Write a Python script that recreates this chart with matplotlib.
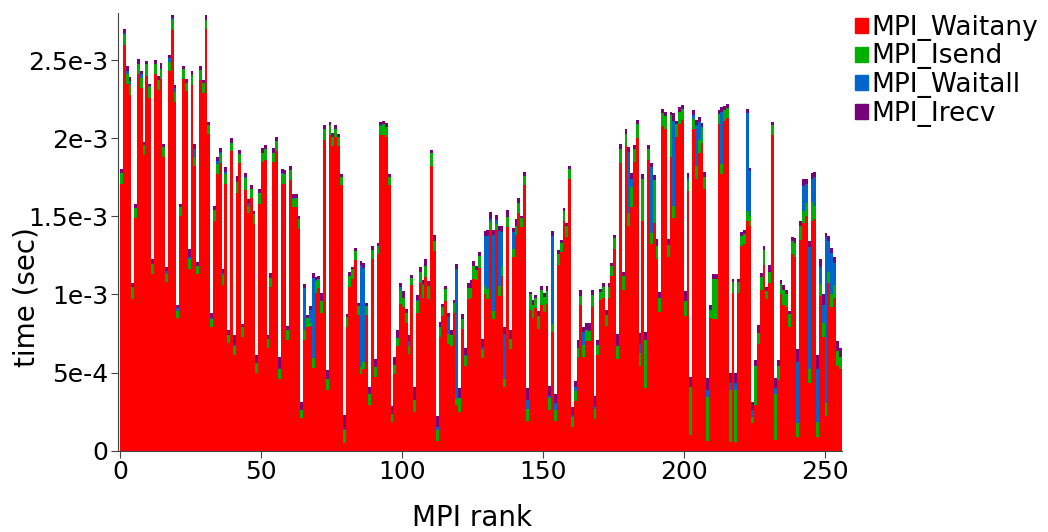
import matplotlib
matplotlib.use("Agg")
import matplotlib.pyplot as plt
import numpy as np
from matplotlib.patches import Patch

# per-rank time in units of 1e-3 s, stacked bottom -> top
waitany = [
    1.71, 2.60, 2.35, 2.28, 0.97, 1.49, 2.41, 2.32, 1.89, 2.40,
    2.26, 1.13, 2.41, 2.31, 2.38, 1.88, 1.08, 2.43, 2.69, 2.23,
    0.85, 1.50, 2.38, 2.30, 1.16, 2.34, 1.82, 1.13, 2.37, 2.29,
    2.70, 2.03, 0.79, 1.47, 1.77, 1.84, 1.06, 1.71, 0.69, 1.92,
    0.61, 1.65, 1.84, 0.73, 1.67, 1.52, 1.62, 1.45, 0.50, 1.58,
    1.85, 1.86, 0.66, 1.05, 1.85, 1.92, 0.46, 1.71, 1.71, 0.71,
    1.73, 1.56, 1.56, 1.42, 0.21, 0.71, 0.79, 0.80, 0.53, 1.01,
    1.04, 0.88, 1.99, 0.39, 2.02, 1.95, 2.01, 1.95, 1.70, 0.05,
    0.79, 1.05, 1.10, 1.22, 0.87, 0.49, 0.52, 0.87, 0.29, 1.23,
    0.47, 1.26, 2.02, 2.02, 2.01, 1.70, 0.18, 0.49, 0.67, 0.94,
    0.92, 0.82, 0.62, 1.06, 0.25, 0.88, 1.07, 0.98, 1.11, 0.97,
    1.82, 1.28, 0.06, 0.73, 0.86, 0.96, 0.68, 0.67, 0.88, 0.29,
    0.25, 0.78, 0.54, 0.97, 0.98, 1.10, 1.09, 1.17, 0.59, 1.00,
    0.97, 1.41, 0.84, 1.41, 0.99, 1.12, 0.41, 1.43, 0.65, 1.24,
    1.38, 1.52, 1.43, 1.70, 0.19, 0.90, 0.85, 0.91, 0.78, 0.93,
    0.89, 0.94, 0.26, 0.76, 0.19, 1.19, 1.27, 1.47, 1.37, 1.74,
    0.15, 0.32, 0.59, 0.93, 0.60, 0.70, 0.70, 0.92, 0.20, 0.61,
    0.966, 0.976, 0.80, 0.976, 1.115, 1.29, 0.585, 1.84, 1.03, 1.95,
    1.44, 1.56, 1.85, 2.00, 0.54, 1.47, 0.40, 1.86, 1.32, 1.46,
    1.23, 0.89, 2.08, 2.06, 1.24, 1.88, 1.49, 2.01, 2.09, 2.12,
    0.86, 1.66, 0.10, 2.06, 1.74, 1.906, 1.97, 1.675, 0.064, 0.85,
    0.84, 0.84, 2.09, 1.77, 2.11, 2.13, 0.058, 1.01, 0.058, 1.01,
    1.31, 1.32, 1.47, 1.44, 0.175, 0.29, 0.68, 1.03, 1.19, 0.97,
    1.07, 2.02, 0.07, 0.45, 1.00, 0.93, 0.92, 0.79, 1.26, 1.24,
    0.09, 1.35, 1.46, 1.50, 0.43, 1.47, 1.48, 0.09, 0.99, 0.73,
    0.22, 1.07, 0.92, 0.98, 0.54, 0.52,
]
isend = [
    .070, .064, .060, .064, .075, .064, .064, .068, .068, .075,
    .068, .064, .064, .064, .064, .064, .053, .058, .068, .068,
    .047, .058, .062, .053, .064, .064, .060, .053, .068, .064,
    .060, .058, .051, .068, .064, .060, .062, .060, .047, .051,
    .058, .070, .060, .060, .075, .047, .053, .066, .060, .068,
    .058, .068, .053, .058, .058, .060, .064, .064, .064, .060,
    .064, .053, .060, .060, .053, .064, .060, .020, .064, .075,
    .058, .075, .068, .068, .064, .060, .051, .060, .053, .080,
    .064, .068, .060, .058, .053, .047, .050, .053, .070, .056,
    .064, .053, .058, .070, .064, .053, .053, .058, .053, .090,
    .058, .060, .047, .043, .075, .075, .075, .080, .075, .085,
    .085, .064, .070, .064, .060, .075, .064, .070, .064, .043,
    .085, .064, .064, .068, .064, .085, .064, .075, .056, .053,
    .064, .053, .053, .043, .064, .060, .047, .064, .064, .053,
    .060, .068, .058, .060, .079, .100, .085, .068, .085, .096,
    .092, .085, .077, .049, .068, .070, .060, .064, .068, .064,
    .068, .064, .070, .058, .075, .075, .064, .075, .064, .068,
    .047, .070, .070, .070, .068, .070, .085, .090, .085, .080,
    .080, .128, .080, .090, .085, .270, .305, .068, .075, .270,
    .080, .085, .080, .080, .075, .270, .075, .080, .080, .070,
    .096, .064, .310, .064, .080, .085, .100, .080, .280, .053,
    .256, .260, .064, .064, .070, .064, .330, .068, .330, .068,
    .064, .070, .064, .060, .043, .250, .075, .080, .096, .050,
    .075, .064, .290, .090, .068, .096, .085, .085, .080, .090,
    .085, .090, .075, .085, .095, .120, .085, .095, .075, .085,
    .085, .075, .085, .080, .095, .080,
]
waitall = [
    0, .012, .020, .025, 0, 0, 0, .021, 0, 0,
    .005, 0, 0, 0, 0, 0, .020, .023, .010, .021,
    .017, 0, 0, 0, .017, 0, .053, 0, 0, 0,
    0, 0, .006, 0, .021, .015, .017, .015, 0, 0,
    .006, 0, 0, 0, .010, .021, .005, 0, 0, 0,
    0, 0, 0, 0, 0, 0, 0, .005, 0, 0,
    0, .005, 0, 0, 0, .270, 0, .080, .510, .005,
    0, 0, 0, 0, 0, 0, 0, 0, 0, .010,
    0, 0, 0, 0, 0, .650, .600, 0, 0, 0,
    0, 0, .005, 0, 0, 0, 0, 0, 0, .020,
    0, 0, .034, 0, 0, .010, 0, .005, 0, 0,
    0, 0, .020, 0, 0, 0, .110, 0, 0, .830,
    0, 0, .010, 0, 0, 0, 0, 0, .015, .320,
    .340, .021, .485, .021, .350, .220, .290, 0, 0, .107,
    0, 0, 0, 0, .053, 0, 0, 0, 0, 0,
    0, 0, .015, .566, .047, 0, 0, 0, 0, 0,
    .010, .021, 0, 0, .085, 0, 0, 0, .020, 0,
    0, 0, 0, 0, 0, 0, 0, 0, 0, 0,
    .395, .053, 0, 0, .060, 0, 0, 0, .420, 0,
    0, 0, 0, 0, 0, 0, .545, 0, 0, 0,
    0, .020, 0, .026, .267, .110, 0, 0, .043, 0,
    0, 0, 0, .335, 0, 0, .043, 0, .043, 0,
    0, 0, .626, .290, .043, 0, 0, 0, 0, 0,
    0, 0, .043, 0, 0, 0, 0, 0, 0, 0,
    .395, 0, .160, .120, .780, .150, .190, .340, .110, .120,
    1.06, .200, .260, .140, 0, 0,
]
irecv = [
    .020, .025, .030, .021, .028, .026, .032, .021, .021, .021,
    .017, .030, .025, .025, .035, .021, .025, .021, .021, .021,
    .021, .021, .021, .026, .047, .028, .032, .026, .026, .021,
    .026, .017, .032, .026, .025, .021, .026, .028, .038, .028,
    .064, .036, .026, .021, .021, .026, .021, .019, .050, .026,
    .032, .028, .028, .028, .028, .030, .075, .021, .021, .026,
    .030, .026, .026, .021, .047, .021, .021, .025, .032, .021,
    .023, .053, .028, .060, .021, .026, .021, .019, .021, .085,
    .021, .028, .017, .021, .021, .028, .030, .021, .050, .021,
    .055, .018, .021, .021, .021, .021, .055, .050, .050, .025,
    .043, .026, .036, .021, .080, .032, .028, .028, .045, .032,
    .021, .036, .070, .032, .021, .021, .030, .035, .021, .030,
    .065, .032, .045, .034, .049, .028, .030, .028, .053, .032,
    .040, .043, .034, .032, .036, .036, .043, .047, .060, .028,
    .042, .028, .017, .021, .079, .015, .028, .021, .028, .030,
    .030, .026, .064, .032, .060, .026, .021, .021, .021, .021,
    .050, .043, .045, .038, .032, .043, .053, .032, .064, .030,
    .021, .026, .032, .026, .021, .021, .075, .032, .026, .028,
    .028, .036, .026, .026, .068, .032, .056, .028, .028, .032,
    .043, .043, .030, .030, .038, .021, .053, .021, .030, .026,
    .068, .032, .064, .034, .028, .032, .025, .028, .075, .032,
    .032, .032, .028, .028, .025, .028, .064, .021, .064, .021,
    .028, .021, .028, .021, .053, .043, .047, .028, .026, .028,
    .043, .021, .060, .043, .026, .032, .026, .021, .030, .030,
    .080, .030, .045, .035, .040, .040, .030, .085, .055, .065,
    .030, .030, .035, .040, .065, .060,
]

series = [("MPI_Waitany", waitany, "#ff0000"),
          ("MPI_Isend", isend, "#00b000"),
          ("MPI_Waitall", waitall, "#0066cc"),
          ("MPI_Irecv", irecv, "#780078")]

ranks = np.arange(len(waitany))

fig = plt.figure(figsize=(10.48, 5.32), dpi=100)
ax = fig.add_axes([0.113, 0.153, 0.690, 0.822])

bottom = np.zeros(len(ranks))
for name, vals, col in series:
    v = np.array(vals) * 1e-3
    ax.bar(ranks, v, width=1.0, bottom=bottom, align="edge", color=col, linewidth=0)
    bottom += v

ax.set_xlim(-0.6, 256)
ax.set_ylim(0, 2.8e-3)
ax.set_xticks([0, 50, 100, 150, 200, 250])
ax.set_yticks([0, 5e-4, 1e-3, 1.5e-3, 2e-3, 2.5e-3])
ax.set_yticklabels(["0", "5e-4", "1e-3", "1.5e-3", "2e-3", "2.5e-3"])
ax.tick_params(labelsize=18, direction="out", length=5, color="#444444", pad=2)
for s in ["top", "right"]:
    ax.spines[s].set_visible(False)
for s in ["left", "bottom"]:
    ax.spines[s].set_color("#444444")

ax.set_xlabel("MPI rank", fontsize=20)
ax.set_ylabel("time (sec)", fontsize=20)
ax.yaxis.set_label_coords(-0.108, 0.35)
ax.xaxis.set_label_coords(0.489, -0.122)

handles = [Patch(color=c, label=n) for n, _, c in series]
fig.legend(handles=handles, loc="upper left", bbox_to_anchor=(0.806, 0.992),
           frameon=False, fontsize=19, handlelength=0.5, handleheight=0.5,
           handletextpad=0.1, labelspacing=0.1, borderaxespad=0)

fig.savefig("out.png", dpi=100)
